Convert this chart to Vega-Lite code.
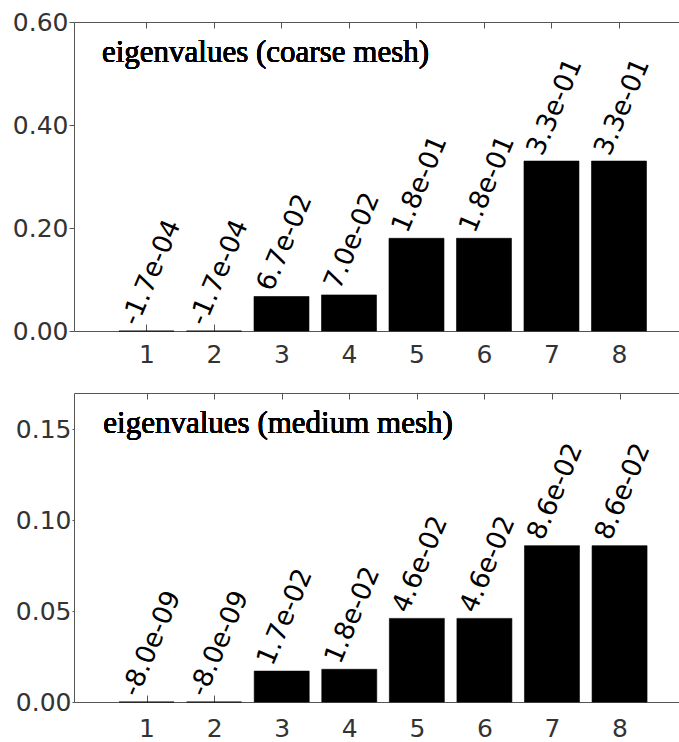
{
  "$schema": "https://vega.github.io/schema/vega-lite/v6.json",
  "background": "white",
  "padding": {"left": 12, "top": 10, "right": 0, "bottom": 0},
  "spacing": 25,
  "config": {
    "view": {"stroke": null},
    "axis": {
      "grid": false,
      "domainColor": "#555555",
      "tickColor": "#555555",
      "labelColor": "#333333",
      "labelFont": "DejaVu Sans",
      "labelFontSize": 25
    }
  },
  "vconcat": [
    {
      "width": 606,
      "height": 309,
      "data": {
        "values": [
          {"mode": 1, "eig": -0.00017, "label": "-1.7e-04"},
          {"mode": 2, "eig": -0.00017, "label": "-1.7e-04"},
          {"mode": 3, "eig": 0.067, "label": "6.7e-02"},
          {"mode": 4, "eig": 0.070, "label": "7.0e-02"},
          {"mode": 5, "eig": 0.18, "label": "1.8e-01"},
          {"mode": 6, "eig": 0.18, "label": "1.8e-01"},
          {"mode": 7, "eig": 0.33, "label": "3.3e-01"},
          {"mode": 8, "eig": 0.33, "label": "3.3e-01"}
        ]
      },
      "resolve": {"axis": {"x": "independent"}},
      "layer": [
        {
          "mark": {"type": "bar", "size": 55, "color": "black", "stroke": "black", "strokeWidth": 0.6},
          "encoding": {
            "x": {
              "field": "mode", "type": "quantitative",
              "scale": {"domain": [0, 8.83], "nice": false, "zero": false},
              "axis": {"orient": "bottom", "title": null, "values": [1, 2, 3, 4, 5, 6, 7, 8], "format": "d", "tickSize": -7, "labelPadding": 18}
            },
            "y": {
              "field": "eig", "type": "quantitative",
              "scale": {"domain": [0, 0.6], "nice": false},
              "axis": {"title": null, "values": [0, 0.2, 0.4, 0.6], "format": ".2f", "tickSize": 5, "labelPadding": 1}
            }
          }
        },
        {
          "mark": {"type": "text", "angle": -67, "align": "left", "baseline": "middle", "dx": 0.2, "dy": -18, "font": "DejaVu Sans", "fontSize": 26.5, "color": "black"},
          "encoding": {
            "x": {
              "field": "mode", "type": "quantitative",
              "axis": {"orient": "top", "title": null, "values": [1, 2, 3, 4, 5, 6, 7, 8], "labels": false, "tickSize": -6}
            },
            "y": {"field": "eig", "type": "quantitative"},
            "text": {"field": "label"}
          }
        },
        {
          "mark": {"type": "text", "align": "left", "baseline": "alphabetic", "font": "Liberation Serif", "fontSize": 31, "color": "black"},
          "encoding": {
            "x": {"datum": 0.34, "type": "quantitative", "axis": null},
            "y": {"datum": 0.522, "type": "quantitative"},
            "text": {"value": "eigenvalues (coarse mesh)"}
          }
        }
      ]
    },
    {
      "width": 609,
      "height": 309,
      "data": {
        "values": [
          {"mode": 1, "eig": -8.0e-09, "label": "-8.0e-09"},
          {"mode": 2, "eig": -8.0e-09, "label": "-8.0e-09"},
          {"mode": 3, "eig": 0.017, "label": "1.7e-02"},
          {"mode": 4, "eig": 0.018, "label": "1.8e-02"},
          {"mode": 5, "eig": 0.046, "label": "4.6e-02"},
          {"mode": 6, "eig": 0.046, "label": "4.6e-02"},
          {"mode": 7, "eig": 0.086, "label": "8.6e-02"},
          {"mode": 8, "eig": 0.086, "label": "8.6e-02"}
        ]
      },
      "resolve": {"axis": {"x": "independent"}},
      "layer": [
        {
          "mark": {"type": "bar", "size": 55, "color": "black", "stroke": "black", "strokeWidth": 0.6},
          "encoding": {
            "x": {
              "field": "mode", "type": "quantitative",
              "scale": {"domain": [0, 8.865], "nice": false, "zero": false},
              "axis": {"orient": "bottom", "title": null, "values": [1, 2, 3, 4, 5, 6, 7, 8], "format": "d", "tickSize": -7, "labelPadding": 21}
            },
            "y": {
              "field": "eig", "type": "quantitative",
              "scale": {"domain": [0, 0.17], "nice": false},
              "axis": {"title": null, "values": [0, 0.05, 0.1, 0.15], "format": ".2f", "tickSize": 2, "labelPadding": 1}
            }
          }
        },
        {
          "mark": {"type": "text", "angle": -67, "align": "left", "baseline": "middle", "dx": 0.2, "dy": -18, "font": "DejaVu Sans", "fontSize": 26.5, "color": "black"},
          "encoding": {
            "x": {
              "field": "mode", "type": "quantitative",
              "axis": {"orient": "top", "title": null, "values": [1, 2, 3, 4, 5, 6, 7, 8], "labels": false, "tickSize": -6}
            },
            "y": {"field": "eig", "type": "quantitative"},
            "text": {"field": "label"}
          }
        },
        {
          "mark": {"type": "text", "align": "left", "baseline": "alphabetic", "font": "Liberation Serif", "fontSize": 31, "color": "black"},
          "encoding": {
            "x": {"datum": 0.36, "type": "quantitative", "axis": null},
            "y": {"datum": 0.148, "type": "quantitative"},
            "text": {"value": "eigenvalues (medium mesh)"}
          }
        }
      ]
    }
  ]
}
